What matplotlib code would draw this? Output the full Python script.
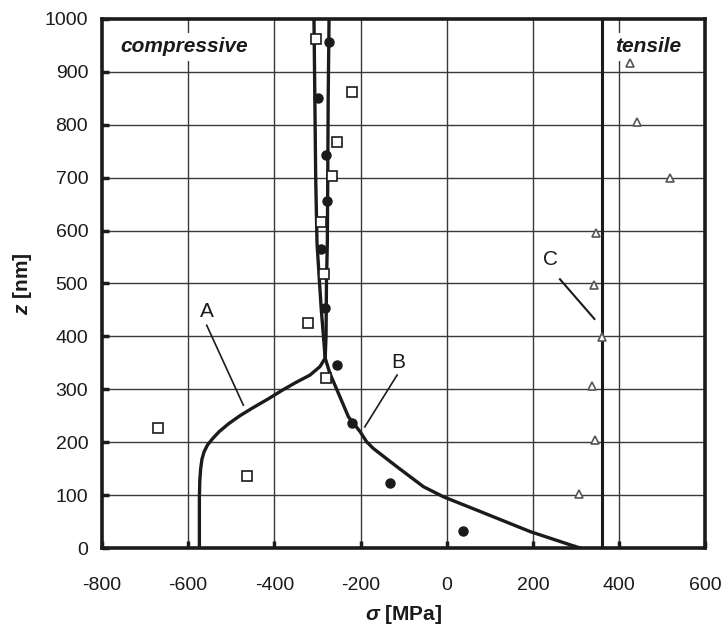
import matplotlib.pyplot as plt

# model curves (stress vs depth)
a_z = [0, 96, 128, 150, 168, 182, 195, 207, 220, 235, 250, 265, 280, 299, 312, 327, 343, 359, 400, 450, 500, 577, 700, 850, 1000]
a_sigma = [-574, -574, -573, -571, -568, -563, -555, -543, -528, -506, -480, -450, -418, -380, -352, -317, -294, -282, -286, -291, -295, -301, -304, -306, -308]

b_z = [0, 6, 31, 69, 97, 116, 154, 188, 201, 220, 248, 292, 330, 359, 400, 500, 577, 700, 850, 1000]
b_sigma = [310, 287, 194, 78, -8, -54, -116, -170, -186, -201, -228, -251, -271, -282, -280, -279, -277, -276, -275, -273]

c_z = [0, 1000]
c_sigma = [360, 360]

# measured points
sq_sigma = [-303, -219, -255, -267, -292, -285, -322, -280, -671, -464]
sq_z = [962, 861, 768, 704, 616, 518, 426, 322, 226, 137]

dot_sigma = [-273, -298, -280, -278, -292, -282, -255, -219, -131, 37]
dot_z = [957, 850, 743, 655, 565, 453, 346, 236, 123, 32]

tri_sigma = [426, 441, 519, 347, 341, 360, 337, 345, 308]
tri_z = [916, 806, 699, 596, 497, 399, 306, 205, 103]

plt.rcParams['font.family'] = ['Liberation Sans', 'DejaVu Sans']
plt.rcParams['axes.unicode_minus'] = False
plt.rcParams['mathtext.fontset'] = 'custom'
plt.rcParams['mathtext.it'] = 'Liberation Sans:italic:bold'
plt.rcParams['mathtext.rm'] = 'Liberation Sans:bold'

fig = plt.figure(figsize=(7.21, 6.31), dpi=100)
ax = fig.add_axes([0.1415, 0.1315, 0.8365, 0.8385])

ink = '#1c1a1a'

# grid
for x in [-600, -400, -200, 0, 200, 400]:
    ax.axvline(x, color='#3a3838', lw=1.0, zorder=1)
for y in range(100, 1000, 100):
    ax.axhline(y, color='#3a3838', lw=1.0, zorder=1)

ax.plot(a_sigma, a_z, color=ink, lw=2.4, zorder=3, solid_joinstyle='round')
ax.plot(b_sigma, b_z, color=ink, lw=2.4, zorder=3, solid_joinstyle='round')
ax.plot(c_sigma, c_z, color=ink, lw=2.2, zorder=3)

ax.plot(sq_sigma, sq_z, 's', ms=6.5, mfc='white', mec=ink, mew=1.2, ls='none', zorder=4)
ax.plot(dot_sigma, dot_z, 'o', ms=6.5, mfc=ink, mec=ink, ls='none', zorder=4)
ax.plot(tri_sigma, tri_z, '^', ms=6, mfc='white', mec='#555555', mew=1.2, ls='none', zorder=7)

# curve labels with pointer lines
ax.text(-557, 447, 'A', fontsize=15, ha='center', va='center', color=ink)
ax.plot([-557, -472], [421, 270], color=ink, lw=1.2, zorder=3)
ax.text(-112, 350, 'B', fontsize=15, ha='center', va='center', color=ink)
ax.plot([-115, -190], [327, 229], color=ink, lw=1.2, zorder=3)
ax.text(240, 546, 'C', fontsize=15, ha='center', va='center', color=ink)
ax.plot([263, 343], [508, 433], color=ink, lw=1.5, zorder=3)

box = dict(facecolor='white', edgecolor='none', pad=3)
ax.text(-758, 947, 'compressive', fontsize=15, fontweight='bold', fontstyle='italic',
        ha='left', va='center', color=ink, bbox=box, zorder=5)
ax.text(392, 947, 'tensile', fontsize=15, fontweight='bold', fontstyle='italic',
        ha='left', va='center', color=ink, bbox=box, zorder=5)

ax.set_xlim(-800, 600)
ax.set_ylim(0, 1000)
ax.set_xticks(range(-800, 601, 200))
ax.set_yticks(range(0, 1001, 100))
ax.tick_params(axis='both', direction='in', length=5, width=2.5, color=ink,
               labelsize=14, labelcolor=ink)
ax.tick_params(axis='x', pad=21)
ax.tick_params(axis='y', pad=10)
for s in ax.spines.values():
    s.set_linewidth(2.6)
    s.set_color(ink)
    s.set_zorder(6)

ax.set_xlabel(r'$\sigma$ [MPa]', fontsize=15, fontweight='bold', color=ink, labelpad=6)
ax.set_ylabel(r'$z$ [nm]', fontsize=15, fontweight='bold', color=ink, labelpad=8)

fig.savefig('out.png', dpi=100)
